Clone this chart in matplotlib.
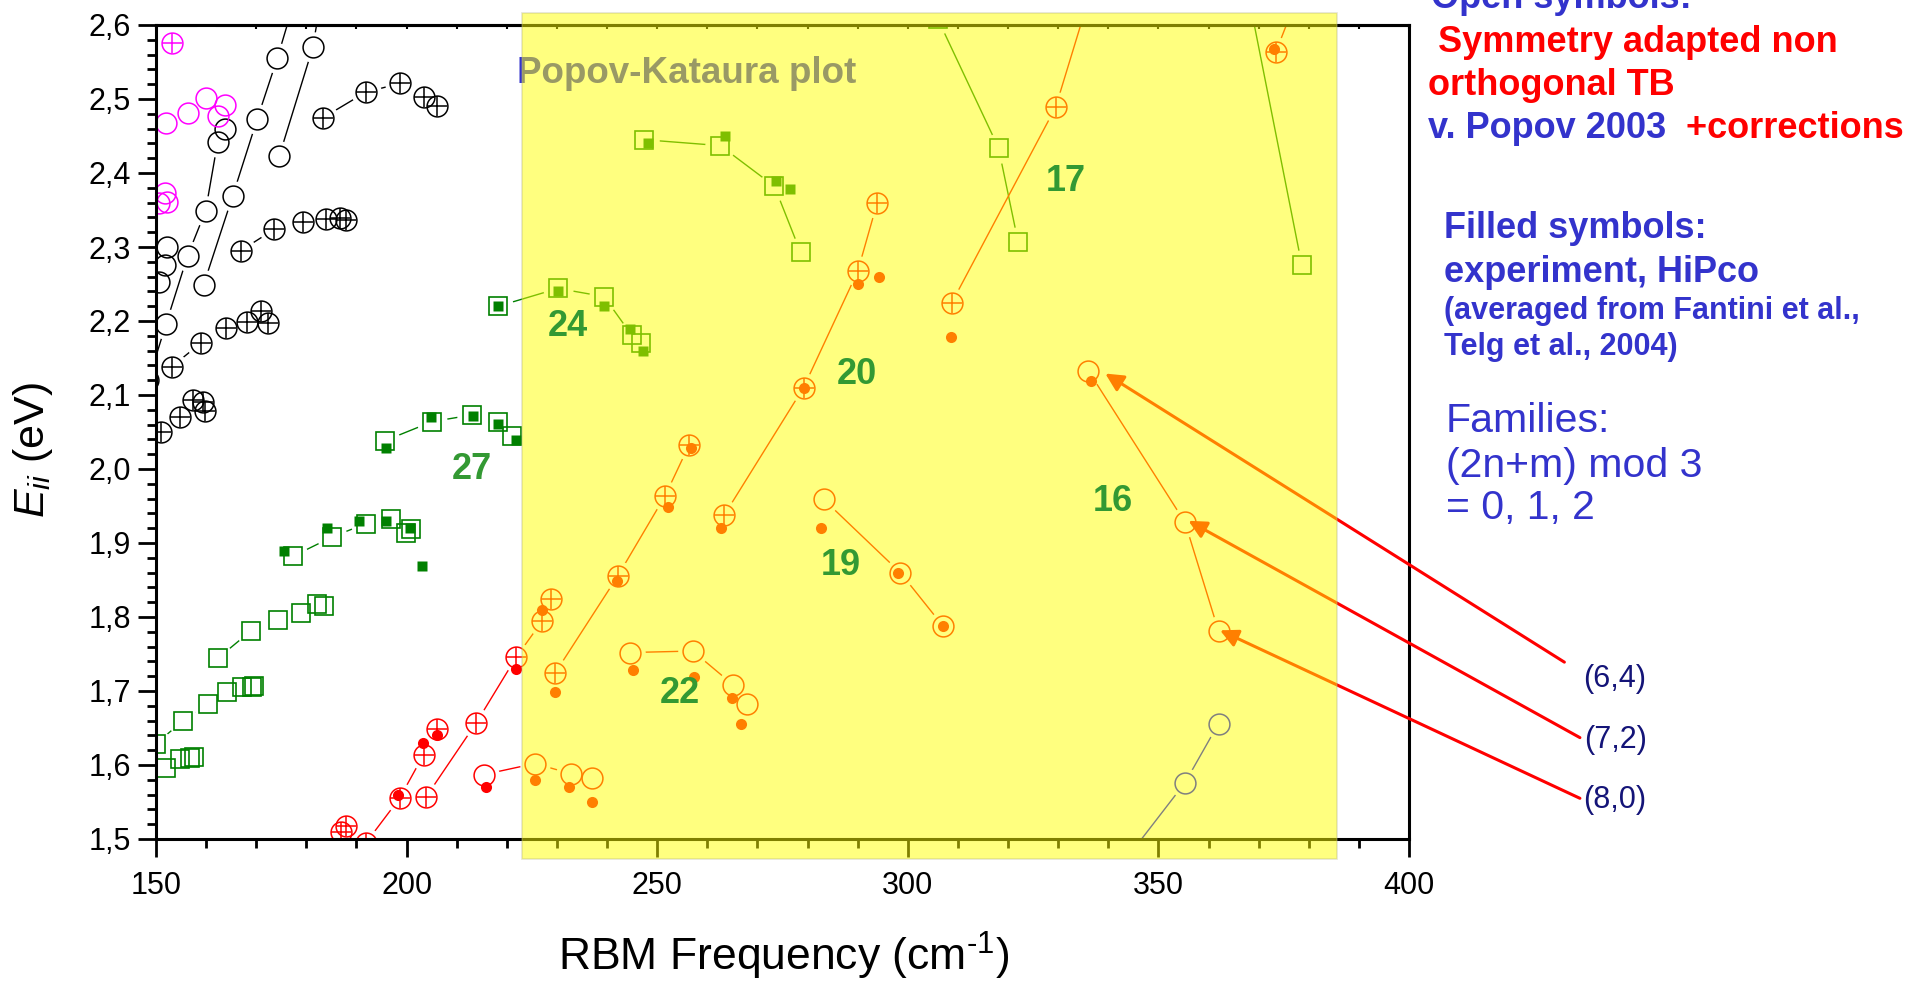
import matplotlib
matplotlib.use("Agg")
import matplotlib.pyplot as plt
from matplotlib.patches import Rectangle
from matplotlib.ticker import MultipleLocator, FuncFormatter

plt.rcParams['font.family'] = ['Liberation Sans', 'DejaVu Sans']
plt.rcParams['mathtext.fontset'] = 'custom'
plt.rcParams['mathtext.rm'] = 'Liberation Sans'
plt.rcParams['mathtext.it'] = 'Liberation Sans:italic'
plt.rcParams['mathtext.bf'] = 'Liberation Sans:bold'

# ---------------- data: RBM frequency (cm-1) vs transition energy (eV) ----------------
# black, open circles (calculated)
k_open1_x = [148.5, 152.0, 156.3, 159.9, 162.3, 163.7]
k_open1_y = [2.120, 2.196, 2.288, 2.349, 2.442, 2.459]
k_open2_x = [159.5, 165.3, 170.2, 174.2, 177.5]
k_open2_y = [2.249, 2.369, 2.473, 2.555, 2.630]
k_open3_x = [174.6, 181.3, 183.5]
k_open3_y = [2.423, 2.570, 2.660]
k_open4_x = [150.5, 151.8, 152.1]
k_open4_y = [2.253, 2.276, 2.300]
# black, crossed circles
k_plus1_x = [183.4, 191.8, 198.6, 203.4, 206.0]
k_plus1_y = [2.475, 2.509, 2.521, 2.503, 2.490]
k_plus2_x = [166.9, 173.6, 179.4, 184.0, 186.8, 187.9]
k_plus2_y = [2.295, 2.324, 2.334, 2.338, 2.339, 2.336]
k_plus3_x = [153.1, 158.9, 163.9, 168.1, 170.9, 172.4]
k_plus3_y = [2.138, 2.170, 2.190, 2.198, 2.214, 2.197]
k_plus4_x = [150.9, 154.7, 157.3, 159.3, 159.7]
k_plus4_y = [2.050, 2.070, 2.093, 2.091, 2.079]
# magenta
m_open_x = [151.9, 156.3, 159.9, 163.7, 162.3, 151.8, 152.1, 150.5, 159.9]
m_open_y = [2.467, 2.481, 2.501, 2.492, 2.477, 2.373, 2.361, 2.359, 2.613]
m_plus_x = [153.1]
m_plus_y = [2.575]
# green, open squares (calculated) and filled squares (experiment)
g_sq1_x = [195.6, 205.1, 213.0, 218.3, 221.1]
g_sq1_y = [2.038, 2.064, 2.073, 2.064, 2.045]
g_sq2_x = [218.3, 230.2, 239.4, 244.9, 246.7]
g_sq2_y = [2.220, 2.244, 2.233, 2.181, 2.170]
g_sq3_x = [247.4, 262.6, 273.4, 278.6]
g_sq3_y = [2.445, 2.437, 2.382, 2.293]
g_sq4_x = [306.0, 318.1, 322.0]
g_sq4_y = [2.608, 2.434, 2.307]
g_sq5_x = [366.8, 378.6]
g_sq5_y = [2.680, 2.276]
g_sq6_x = [177.3, 185.1, 191.8, 196.8, 199.8, 200.8]
g_sq6_y = [1.882, 1.908, 1.926, 1.933, 1.914, 1.919]
g_sq7_x = [150.0, 155.3, 160.3, 164.2, 167.2, 169.1, 169.5]
g_sq7_y = [1.629, 1.659, 1.683, 1.698, 1.705, 1.706, 1.707]
g_sq8_x = [162.3, 168.9, 174.4, 179.0, 182.1, 183.6]
g_sq8_y = [1.744, 1.781, 1.796, 1.805, 1.818, 1.815]
g_sq9_x = [151.9, 154.7, 156.7, 157.6]
g_sq9_y = [1.596, 1.608, 1.609, 1.611]
g_exp_x = [195.9, 204.9, 213.2, 218.3, 221.9,
           218.3, 230.2, 239.4, 244.5, 247.2,
           248.1, 263.6, 273.7, 276.5,
           175.6, 184.1, 190.6, 195.9, 200.7, 203.1]
g_exp_y = [2.029, 2.070, 2.072, 2.061, 2.039,
           2.220, 2.240, 2.220, 2.189, 2.160,
           2.440, 2.450, 2.389, 2.379,
           1.889, 1.920, 1.930, 1.930, 1.920, 1.869]
# red, crossed circles
r_plus1_x = [187.0, 187.9]
r_plus1_y = [1.509, 1.518]
r_plus2_x = [191.8, 198.6, 203.4, 206.0]
r_plus2_y = [1.494, 1.555, 1.614, 1.648]
r_plus3_x = [203.9, 213.9, 221.9, 227.1, 228.9]
r_plus3_y = [1.557, 1.657, 1.746, 1.795, 1.824]
r_plus4_x = [229.7, 242.1, 251.6, 256.4]
r_plus4_y = [1.725, 1.855, 1.964, 2.033]
r_plus5_x = [263.4, 279.2, 290.0, 293.9]
r_plus5_y = [1.938, 2.110, 2.267, 2.360]
r_plus6_x = [308.8, 329.5, 337.2]
r_plus6_y = [2.225, 2.489, 2.660]
r_plus7_x = [373.4, 379.0]
r_plus7_y = [2.563, 2.660]
# red, open circles
r_open1_x = [215.4, 225.6, 232.9, 236.9]
r_open1_y = [1.587, 1.602, 1.588, 1.582]
r_open2_x = [244.6, 257.1, 265.2, 268.0]
r_open2_y = [1.752, 1.754, 1.708, 1.682]
r_open3_x = [283.2, 298.5, 307.0]
r_open3_y = [1.959, 1.860, 1.788]
r_open4_x = [336.0, 355.3, 362.0]
r_open4_y = [2.133, 1.928, 1.781]
# red, filled circles (experiment)
r_exp_x = [198.3, 203.2, 206.1, 215.9, 221.9, 227.1, 229.6, 241.9, 252.1, 256.7,
           262.7, 279.3, 290.1, 294.2, 308.7, 373.1, 225.6, 232.4, 236.9, 245.2,
           257.4, 265.0, 266.8, 282.7, 298.0, 307.1, 336.6]
r_exp_y = [1.560, 1.630, 1.640, 1.570, 1.730, 1.809, 1.699, 1.849, 1.949, 2.029,
           1.920, 2.110, 2.250, 2.260, 2.179, 2.567, 1.580, 1.570, 1.550, 1.729,
           1.719, 1.690, 1.656, 1.920, 1.860, 1.788, 2.119]
# blue, open circles
b_open_x = [343.0, 355.3, 362.0]
b_open_y = [1.468, 1.576, 1.656]

# family numbers (2n+m)
fam_labels = ['27', '24', '22', '20', '19', '17', '16']
fam_x = [213.1, 232.2, 254.6, 289.8, 286.7, 331.5, 341.0]
fam_y = [1.999, 2.193, 1.696, 2.128, 1.869, 2.388, 1.956]

# chirality annotations
chir_labels = ['(6,4)', '(7,2)', '(8,0)']
chir_x = [441.0, 441.2, 441.0]
chir_y = [1.716, 1.634, 1.553]
arrow_tail_x = [431.0, 434.1, 434.1]
arrow_tail_y = [1.739, 1.637, 1.555]
arrow_tip_x = [339.4, 356.0, 362.3]
arrow_tip_y = [2.129, 1.930, 1.782]

xticks = [150, 200, 250, 300, 350, 400]
yticks = [1.5, 1.6, 1.7, 1.8, 1.9, 2.0, 2.1, 2.2, 2.3, 2.4, 2.5, 2.6]

BLACK, MAGENTA, GREEN, RED, BLUE = '#000000', '#FF00FF', '#008000', '#FF0000', '#0000FF'
TXT_BLUE = '#3333CC'
FAM_GREEN = '#339933'

# ---------------- figure ----------------
W, H = 1917, 982
fig = plt.figure(figsize=(W / 100, H / 100), dpi=100)
ax = fig.add_axes([156 / W, 1 - 839 / H, 1253 / W, 814 / H])


def fpos(px, py):
    return px / W, 1 - py / H


CIRC = 15.0
SQ = 13.5
HALO = 22.0


def series(x, y, color, kind, line=True):
    if line:
        ax.plot(x, y, '-', color=color, lw=1.0, zorder=2.0)
    ax.plot(x, y, ls='none', marker='o', ms=HALO, mfc='white', mec='none', zorder=2.1)
    if kind == 'sq':
        ax.plot(x, y, ls='none', marker='s', ms=SQ, mfc='none', mec=color, mew=1.2, zorder=2.2)
    else:
        ax.plot(x, y, ls='none', marker='o', ms=CIRC, mfc='none', mec=color, mew=1.1, zorder=2.2)
        if kind == 'plus':
            ax.plot(x, y, ls='none', marker='+', ms=CIRC, mec=color, mew=1.1, zorder=2.2)


for xs, ys in [(k_open1_x, k_open1_y), (k_open2_x, k_open2_y), (k_open3_x, k_open3_y),
               (k_open4_x, k_open4_y)]:
    series(xs, ys, BLACK, 'open')
for xs, ys in [(k_plus1_x, k_plus1_y), (k_plus2_x, k_plus2_y), (k_plus3_x, k_plus3_y),
               (k_plus4_x, k_plus4_y)]:
    series(xs, ys, BLACK, 'plus')
series(m_open_x, m_open_y, MAGENTA, 'open', line=False)
series(m_plus_x, m_plus_y, MAGENTA, 'plus', line=False)
for xs, ys in [(g_sq1_x, g_sq1_y), (g_sq2_x, g_sq2_y), (g_sq3_x, g_sq3_y), (g_sq4_x, g_sq4_y),
               (g_sq5_x, g_sq5_y), (g_sq6_x, g_sq6_y), (g_sq7_x, g_sq7_y), (g_sq8_x, g_sq8_y),
               (g_sq9_x, g_sq9_y)]:
    series(xs, ys, GREEN, 'sq')
for xs, ys in [(r_plus1_x, r_plus1_y), (r_plus2_x, r_plus2_y), (r_plus3_x, r_plus3_y),
               (r_plus4_x, r_plus4_y), (r_plus5_x, r_plus5_y), (r_plus6_x, r_plus6_y),
               (r_plus7_x, r_plus7_y)]:
    series(xs, ys, RED, 'plus')
for xs, ys in [(r_open1_x, r_open1_y), (r_open2_x, r_open2_y), (r_open3_x, r_open3_y),
               (r_open4_x, r_open4_y)]:
    series(xs, ys, RED, 'open')
series(b_open_x, b_open_y, BLUE, 'open')

ax.plot(g_exp_x, g_exp_y, ls='none', marker='s', ms=7.2, mfc=GREEN, mec='none', zorder=2.3)
ax.plot(r_exp_x, r_exp_y, ls='none', marker='o', ms=8.0, mfc=RED, mec='none', zorder=2.3)

# arrows from the chirality labels to the (2n+m)=16 points
for tx, ty, hx, hy in zip(arrow_tail_x, arrow_tail_y, arrow_tip_x, arrow_tip_y):
    ax.annotate('', xy=(hx, hy), xytext=(tx, ty), xycoords='data', textcoords='data',
                annotation_clip=False,
                arrowprops=dict(arrowstyle='-|>,head_length=0.6,head_width=0.3',
                                color=RED, lw=2.2, mutation_scale=18,
                                shrinkA=0, shrinkB=0, clip_on=False))
for s, x, y in zip(chir_labels, chir_x, chir_y):
    ax.text(x, y, s, fontsize=22, color='#141478', ha='center', va='center', clip_on=False)

ax.text(*fpos(517, 83), 'Popov-Kataura plot', transform=fig.transFigure, fontsize=26.5,
        fontweight='bold', color=TXT_BLUE, ha='left', va='baseline')

# axes styling
ax.set_xlim(150, 400)
ax.set_ylim(1.5, 2.6)
ax.set_xticks(xticks)
ax.set_yticks(yticks)
ax.xaxis.set_minor_locator(MultipleLocator(10))
ax.yaxis.set_minor_locator(MultipleLocator(0.02))
ax.yaxis.set_major_formatter(FuncFormatter(lambda v, p: f"{v:.1f}".replace('.', ',')))
ax.xaxis.set_major_formatter(FuncFormatter(lambda v, p: f"{v:.0f}"))
ax.tick_params(axis='both', which='major', direction='out', length=13, width=2.0)
ax.tick_params(axis='both', which='minor', direction='out', length=6.5, width=2.0)
ax.tick_params(axis='x', labelsize=22, pad=10)
ax.tick_params(axis='y', labelsize=22, pad=5)
for sp in ax.spines.values():
    sp.set_linewidth(2.2)

top = ax.secondary_xaxis('top')
top.set_xticks(xticks)
top.xaxis.set_minor_locator(MultipleLocator(10))
top.tick_params(which='both', direction='in', length=3, width=1.5, labeltop=False)
top.spines['top'].set_linewidth(2.2)

ax.set_xlabel(r'RBM Frequency (cm$^{\text{-1}}$)', fontsize=32, va='baseline')
ax.xaxis.set_label_coords(0.501, -0.1622)
ax.set_ylabel(r'$E_{ii}$ (eV)', fontsize=31, va='center')
ax.yaxis.set_label_coords(-0.0982, 0.478)

# translucent highlight band
fig.add_artist(Rectangle(fpos(522, 859), (1337 - 522) / W, (859 - 13) / H,
                         transform=fig.transFigure, facecolor=(1, 1, 0, 0.5),
                         edgecolor=(0.7, 0.7, 0.5, 0.35), lw=1.2, zorder=2))

# family numbers on top of the band
for s, x, y in zip(fam_labels, fam_x, fam_y):
    fig.text(x, y, s, transform=ax.transData, fontsize=26, fontweight='bold',
             color=FAM_GREEN, ha='center', va='center', zorder=4)

# notes on the right
fig.text(*fpos(1431, 8), 'Open symbols:', fontsize=26, fontweight='bold', color=TXT_BLUE,
         va='baseline')
fig.text(*fpos(1428, 52), ' Symmetry adapted non', fontsize=26, fontweight='bold', color=RED,
         va='baseline')
fig.text(*fpos(1428, 95), 'orthogonal TB', fontsize=26, fontweight='bold', color=RED,
         va='baseline')
t_pop = fig.text(*fpos(1428, 138), 'v. Popov 2003', fontsize=26, fontweight='bold',
                 color=TXT_BLUE, va='baseline')
fig.add_artist(matplotlib.text.Annotation(
    '  +corrections', xy=(1, 0), xycoords=t_pop, fontsize=26, fontweight='bold',
    color=RED, va='bottom', ha='left', annotation_clip=False))
fig.text(*fpos(1444, 238), 'Filled symbols:', fontsize=26, fontweight='bold',
         color=TXT_BLUE, va='baseline')
fig.text(*fpos(1444, 282), 'experiment, HiPco', fontsize=26, fontweight='bold',
         color=TXT_BLUE, va='baseline')
fig.text(*fpos(1444, 319), '(averaged from Fantini et al.,', fontsize=22, fontweight='bold',
         color=TXT_BLUE, va='baseline')
fig.text(*fpos(1444, 355), 'Telg et al., 2004)', fontsize=22, fontweight='bold',
         color=TXT_BLUE, va='baseline')
fig.text(*fpos(1446, 432), 'Families:', fontsize=29.5, color=TXT_BLUE, va='baseline')
fig.text(*fpos(1446, 477), '(2n+m) mod 3', fontsize=29.5, color=TXT_BLUE, va='baseline')
fig.text(*fpos(1446, 519), '= 0, 1, 2', fontsize=29.5, color=TXT_BLUE, va='baseline')

fig.savefig('out.png', dpi=100)
